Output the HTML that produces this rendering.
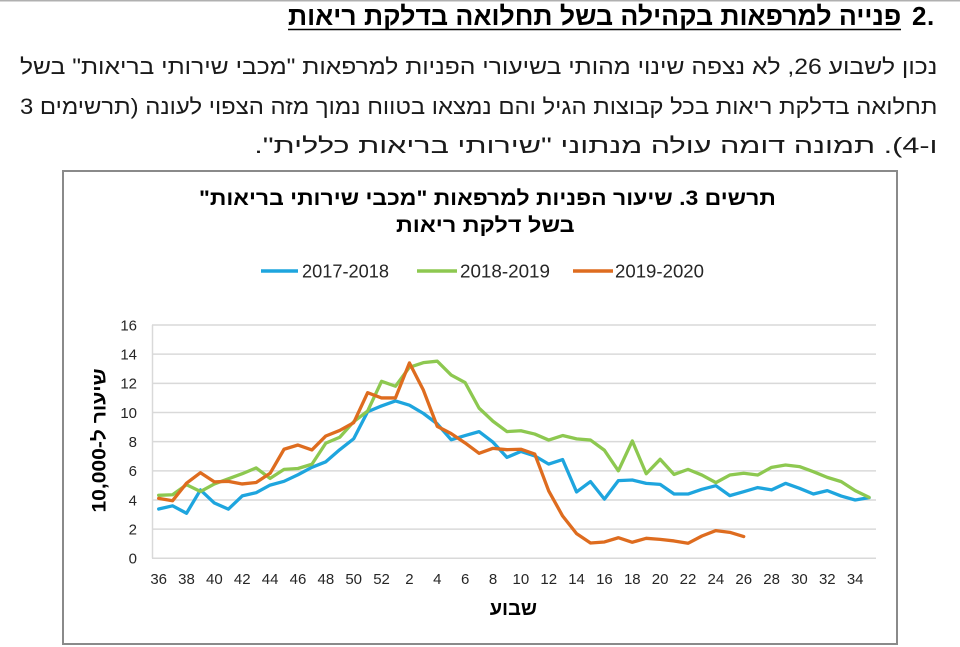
<!DOCTYPE html>
<html lang="he">
<head>
<meta charset="utf-8">
<style>
  html,body{margin:0;padding:0;background:#fff;}
  body{width:960px;height:647px;position:relative;overflow:hidden;
       font-family:"Liberation Sans","DejaVu Sans",sans-serif;}
  svg{position:absolute;left:0;top:0;}
  .fit{position:absolute;white-space:nowrap;direction:rtl;unicode-bidi:embed;
       transform-origin:right center;line-height:1;color:#1a1a1a;
       font-family:"Liberation Sans","DejaVu Sans",sans-serif;}
  .b{font-weight:bold;color:#000;}
</style>
</head>
<body>
<svg width="960" height="647" viewBox="0 0 960 647" xmlns="http://www.w3.org/2000/svg">
  <rect x="0" y="0" width="960" height="1.5" fill="#b0b0b0"/>
  <!-- header number and underline -->
  <text x="926.5" y="25" text-anchor="end" font-family="Liberation Sans, sans-serif" font-weight="bold" font-size="26" fill="#000">2</text>
  <text x="927" y="25" text-anchor="start" font-family="Liberation Sans, sans-serif" font-weight="bold" font-size="26" fill="#000">.</text>
  <line x1="288" y1="29.5" x2="901" y2="29.5" stroke="#000" stroke-width="1.6"/>

  <!-- chart frame -->
  <rect x="63" y="171" width="834" height="473" fill="#fff" stroke="#8a8a8a" stroke-width="2"/>

  <!-- gridlines -->
  <g stroke="#d9d9d9" stroke-width="1.5">
    <line x1="152" y1="558.3" x2="876" y2="558.3"/>
    <line x1="152" y1="529.14" x2="876" y2="529.14"/>
    <line x1="152" y1="499.98" x2="876" y2="499.98"/>
    <line x1="152" y1="470.82" x2="876" y2="470.82"/>
    <line x1="152" y1="441.66" x2="876" y2="441.66"/>
    <line x1="152" y1="412.5" x2="876" y2="412.5"/>
    <line x1="152" y1="383.34" x2="876" y2="383.34"/>
    <line x1="152" y1="354.18" x2="876" y2="354.18"/>
    <line x1="152" y1="325.02" x2="876" y2="325.02"/>
    <line x1="152.5" y1="325" x2="152.5" y2="558.3"/>
  </g>

  <!-- y tick labels -->
  <g font-family="Liberation Sans, sans-serif" font-size="15" fill="#262626" text-anchor="end">
    <text x="137" y="563.6">0</text>
    <text x="137" y="534.4">2</text>
    <text x="137" y="505.3">4</text>
    <text x="137" y="476.1">6</text>
    <text x="137" y="447">8</text>
    <text x="137" y="417.8">10</text>
    <text x="137" y="388.6">12</text>
    <text x="137" y="359.5">14</text>
    <text x="137" y="330.3">16</text>
  </g>

  <!-- x tick labels -->
  <g font-family="Liberation Sans, sans-serif" font-size="15" fill="#262626" text-anchor="middle">
    <text x="158.67" y="584">36</text>
    <text x="186.53" y="584">38</text>
    <text x="214.39" y="584">40</text>
    <text x="242.25" y="584">42</text>
    <text x="270.11" y="584">44</text>
    <text x="297.97" y="584">46</text>
    <text x="325.83" y="584">48</text>
    <text x="353.69" y="584">50</text>
    <text x="381.55" y="584">52</text>
    <text x="409.41" y="584">2</text>
    <text x="437.27" y="584">4</text>
    <text x="465.13" y="584">6</text>
    <text x="492.99" y="584">8</text>
    <text x="520.85" y="584">10</text>
    <text x="548.71" y="584">12</text>
    <text x="576.57" y="584">14</text>
    <text x="604.43" y="584">16</text>
    <text x="632.29" y="584">18</text>
    <text x="660.15" y="584">20</text>
    <text x="688.01" y="584">22</text>
    <text x="715.87" y="584">24</text>
    <text x="743.73" y="584">26</text>
    <text x="771.59" y="584">28</text>
    <text x="799.45" y="584">30</text>
    <text x="827.31" y="584">32</text>
    <text x="855.17" y="584">34</text>
  </g>

  <!-- series -->
  <g transform="translate(158.67 558.3) scale(13.93 -14.58)" fill="none" stroke-linejoin="round" stroke-linecap="round">
    <polyline vector-effect="non-scaling-stroke" stroke="#1EA5DE" stroke-width="3.3"
      points="0,3.38 1,3.6 2,3.09 3,4.69 4,3.79 5,3.37 6,4.28 7,4.5 8,5.02 9,5.28 10,5.73 11,6.24 12,6.62 13,7.45 14,8.2 15,10.05 16,10.45 17,10.79 18,10.5 19,9.94 20,9.22 21,8.13 22,8.42 23,8.69 24,7.96 25,6.92 26,7.33 27,7.02 28,6.46 29,6.77 30,4.55 31,5.26 32,4.06 33,5.33 34,5.37 35,5.14 36,5.07 37,4.41 38,4.41 39,4.73 40,4.98 41,4.3 42,4.57 43,4.85 44,4.69 45,5.14 46,4.8 47,4.41 48,4.64 49,4.27 50,4.0 51,4.16"/>
    <polyline vector-effect="non-scaling-stroke" stroke="#8DC850" stroke-width="3.3"
      points="0,4.32 1,4.36 2,5.05 3,4.58 4,5.1 5,5.45 6,5.8 7,6.2 8,5.48 9,6.1 10,6.16 11,6.45 12,7.9 13,8.3 14,9.37 15,10.1 16,12.14 17,11.8 18,13.1 19,13.42 20,13.52 21,12.57 22,12.05 23,10.3 24,9.4 25,8.69 26,8.75 27,8.52 28,8.11 29,8.42 30,8.19 31,8.11 32,7.41 33,6.0 34,8.05 35,5.8 36,6.79 37,5.75 38,6.1 39,5.71 40,5.19 41,5.71 42,5.83 43,5.71 44,6.24 45,6.4 46,6.29 47,5.94 48,5.55 49,5.26 50,4.64 51,4.18"/>
    <polyline vector-effect="non-scaling-stroke" stroke="#DE6C1F" stroke-width="3.3"
      points="0,4.11 1,3.95 2,5.15 3,5.87 4,5.24 5,5.28 6,5.1 7,5.2 8,5.83 9,7.48 10,7.77 11,7.43 12,8.39 13,8.77 14,9.3 15,11.36 16,11.0 17,11.0 18,13.4 19,11.54 20,9.05 21,8.55 22,7.91 23,7.2 24,7.54 25,7.45 26,7.48 27,7.15 28,4.62 29,2.9 30,1.69 31,1.05 32,1.12 33,1.41 34,1.1 35,1.37 36,1.3 37,1.19 38,1.03 39,1.53 40,1.9 41,1.78 42,1.49"/>
  </g>

  <!-- legend -->
  <g stroke-width="3.5" stroke-linecap="butt">
    <line x1="261" y1="271" x2="298" y2="271" stroke="#1EA5DE"/>
    <line x1="417" y1="271" x2="457" y2="271" stroke="#8DC850"/>
    <line x1="573" y1="271" x2="613" y2="271" stroke="#DE6C1F"/>
  </g>
  <g font-family="Liberation Sans, sans-serif" font-size="18" fill="#262626">
    <text x="302" y="277.5" textLength="87" lengthAdjust="spacingAndGlyphs">2017-2018</text>
    <text x="460" y="277.5" textLength="90" lengthAdjust="spacingAndGlyphs">2018-2019</text>
    <text x="615" y="277.5" textLength="89" lengthAdjust="spacingAndGlyphs">2019-2020</text>
  </g>
</svg>

<!-- header -->
<div class="fit b" id="t0" style="right:59px;top:3px;font-size:26px;--w:613;">פנייה למרפאות בקהילה בשל תחלואה בדלקת ריאות</div>

<!-- paragraph -->
<div class="fit" id="p1" style="right:23px;top:56.4px;font-size:22px;">נכון לשבוע 26, לא נצפה שינוי מהותי בשיעורי הפניות למרפאות "מכבי שירותי בריאות" בשל</div>
<div class="fit" id="p2" style="right:23px;top:95.9px;font-size:22px;">תחלואה בדלקת ריאות בכל קבוצות הגיל והם נמצאו בטווח נמוך מזה הצפוי לעונה (תרשימים 3</div>
<div class="fit" id="p3" style="right:23px;top:135.4px;font-size:22px;">ו-4). תמונה דומה עולה מנתוני "שירותי בריאות כללית".</div>

<!-- chart title -->
<div class="fit b" id="c1" style="right:184px;top:188.2px;font-size:21px;--w:577;">תרשים 3. שיעור הפניות למרפאות "מכבי שירותי בריאות"</div>
<div class="fit b" id="c2" style="right:385px;top:215.2px;font-size:21px;--w:179;">בשל דלקת ריאות</div>

<!-- x axis title -->
<div class="fit b" id="xa" style="right:423px;top:598.6px;font-size:20px;--w:47;">שבוע</div>

<!-- y axis title (rotated) -->
<div class="b" id="ya" style="position:absolute;white-space:nowrap;direction:rtl;line-height:1;font-size:19px;left:30px;top:430.5px;width:140px;text-align:center;transform:rotate(-90deg);transform-origin:center center;">שיעור ל-10,000</div>

<script>
(function(){
  var els = document.querySelectorAll('.fit');
  for (var i=0;i<els.length;i++){
    var el = els[i];
    var w = parseFloat(getComputedStyle(el).getPropertyValue('--w'));
    var nat = el.offsetWidth;
    if (w && nat) el.style.transform = 'scaleX(' + (w/nat) + ')';
  }
  // paragraph: common scale from last (non-justified) line, justify lines 1-2
  var p3 = document.getElementById('p3');
  var s = 684 / p3.offsetWidth;
  p3.style.transform = 'scaleX(' + s + ')';
  ['p1','p2'].forEach(function(id){
    var el = document.getElementById(id);
    var n = el.offsetWidth;
    var spaces = (el.textContent.match(/ /g) || []).length;
    var extra = 917 / s - n;
    if (extra > 0 && spaces > 0) {
      el.style.wordSpacing = (extra / spaces) + 'px';
    }
    var n2 = el.offsetWidth;
    el.style.transform = 'scaleX(' + (917 / n2) + ')';
  });
  var ya = document.getElementById('ya');
  ya.style.width = 'auto';
  var yw = ya.offsetWidth, yh = ya.offsetHeight;
  ya.style.left = (100 - yw/2) + 'px';
  ya.style.top = (440 - yh/2) + 'px';
  ya.style.transform = 'rotate(-90deg) scaleX(' + (144/yw) + ')';
})();
</script>
</body>
</html>
